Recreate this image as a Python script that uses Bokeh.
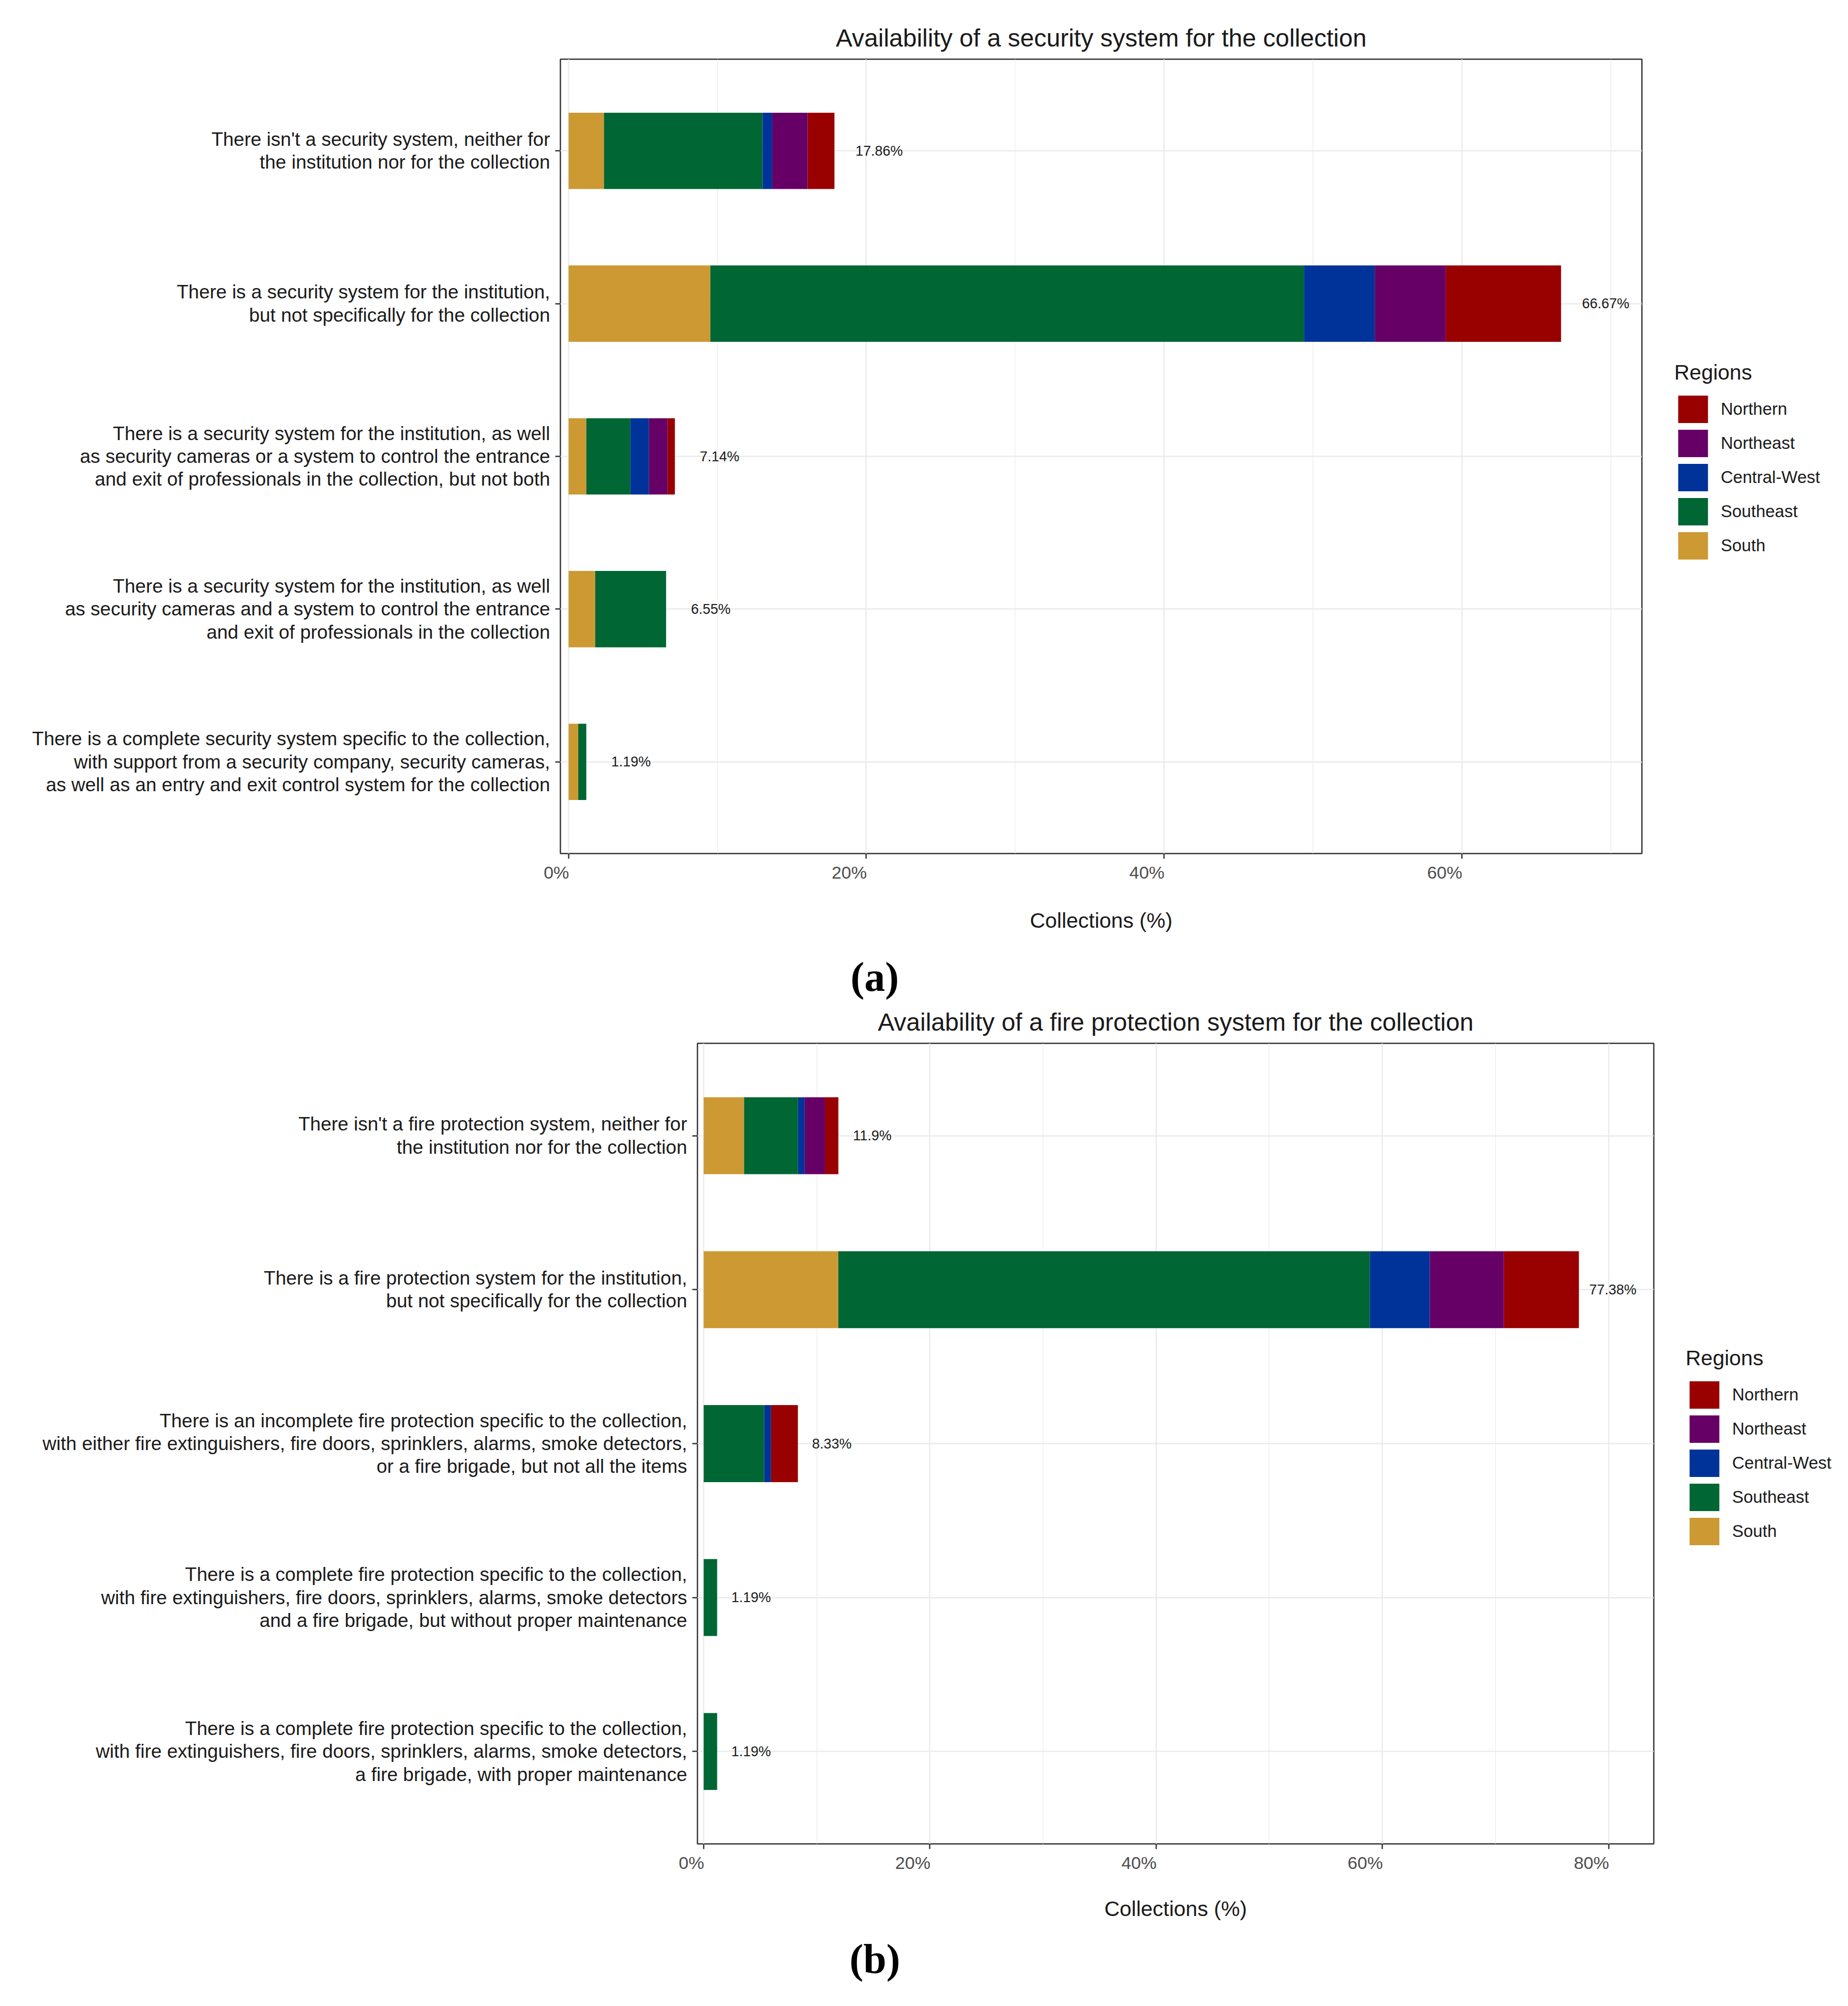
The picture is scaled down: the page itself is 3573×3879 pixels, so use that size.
import numpy as np
from bokeh.plotting import figure
from bokeh.models import (ColumnDataSource, FactorRange, Range1d, FixedTicker,
                          Legend, LegendItem, Title)
from bokeh.layouts import column, row
from bokeh.core.properties import value
from bokeh.embed import file_html
from bokeh.resources import INLINE

# ---------------- data ----------------
regions = ["South", "Southeast", "Central-West", "Northeast", "Northern"]
region_colors = ["#CC9933", "#006633", "#003399", "#660066", "#990000"]

sec_title = "Availability of a security system for the collection"
sec_categories = [
    "There isn't a security system, neither for\nthe institution nor for the collection",
    "There is a security system for the institution,\nbut not specifically for the collection",
    "There is a security system for the institution, as well\nas security cameras or a system to control the entrance\nand exit of professionals in the collection, but not both",
    "There is a security system for the institution, as well\nas security cameras and a system to control the entrance\nand exit of professionals in the collection",
    "There is a complete security system specific to the collection,\nwith support from a security company, security cameras,\nas well as an entry and exit control system for the collection",
]
sec_south = [2.38, 9.52, 1.19, 1.79, 0.65]
sec_southeast = [10.65, 39.88, 2.96, 4.76, 0.54]
sec_central_west = [0.65, 4.76, 1.25, 0.0, 0.0]
sec_northeast = [2.38, 4.76, 1.25, 0.0, 0.0]
sec_northern = [1.80, 7.75, 0.49, 0.0, 0.0]
sec_labels = ["17.86%", "66.67%", "7.14%", "6.55%", "1.19%"]
sec_ticks = [0, 20, 40, 60]
sec_minor = [10, 30, 50, 70]
sec_tick_labels = ["0%", "20%", "40%", "60%"]

fire_title = "Availability of a fire protection system for the collection"
fire_categories = [
    "There isn't a fire protection system, neither for\nthe institution nor for the collection",
    "There is a fire protection system for the institution,\nbut not specifically for the collection",
    "There is an incomplete fire protection specific to the collection,\nwith either fire extinguishers, fire doors, sprinklers, alarms, smoke detectors,\nor a fire brigade, but not all the items",
    "There is a complete fire protection specific to the collection,\nwith fire extinguishers, fire doors, sprinklers, alarms, smoke detectors\nand a fire brigade, but without proper maintenance",
    "There is a complete fire protection specific to the collection,\nwith fire extinguishers, fire doors, sprinklers, alarms, smoke detectors,\na fire brigade, with proper maintenance",
]
fire_south = [3.57, 11.90, 0.0, 0.0, 0.0]
fire_southeast = [4.76, 47.00, 5.36, 1.19, 1.19]
fire_central_west = [0.60, 5.30, 0.60, 0.0, 0.0]
fire_northeast = [1.79, 6.55, 0.0, 0.0, 0.0]
fire_northern = [1.19, 6.63, 2.37, 0.0, 0.0]
fire_labels = ["11.9%", "77.38%", "8.33%", "1.19%", "1.19%"]
fire_ticks = [0, 20, 40, 60, 80]
fire_minor = [10, 30, 50, 70]
fire_tick_labels = ["0%", "20%", "40%", "60%", "80%"]

LABEL_GAP = 3.0
FONT = "Liberation Sans"
NBSP = "\u00a0"
# advance widths (em) used to right-align x tick labels on their ticks
ADV = {"%": 0.889}


def right_pad(s):
    w = sum(ADV.get(c, 0.556) for c in s)
    return s + NBSP * int(round(w / 0.278))


def title_obj(text, standoff):
    return Title(text=text, align="center", text_font=FONT,
                 text_font_size="48px", text_font_style="normal",
                 text_color="#1A1A1A", standoff=standoff)


def tag_obj(text, offset, standoff):
    return Title(text=text, align="left", offset=offset,
                 text_font="Liberation Serif", text_font_size="80px",
                 text_font_style="bold", text_color="black",
                 standoff=standoff)


def make_chart(cats, series, labels, ticks, minor, tick_labels, xr,
               frame_left, frame_top, frame_w, frame_h, border_bottom,
               axis_standoff, legend_loc):
    data = {"cat": cats}
    for name, vals in zip(regions, series):
        data[name] = vals
    totals = np.sum(np.array(series, dtype=float), axis=0)
    data["lx"] = totals + LABEL_GAP
    data["lbl"] = labels
    src = ColumnDataSource(data)

    yr = FactorRange(factors=list(reversed(cats)), range_padding=0.1,
                     range_padding_units="absolute")
    p = figure(y_range=yr, x_range=Range1d(*xr), frame_width=frame_w,
               frame_height=frame_h, min_border_left=frame_left,
               min_border_top=frame_top, min_border_bottom=border_bottom,
               min_border_right=0, toolbar_location=None, title=None,
               output_backend="svg", background_fill_color="white",
               border_fill_color="white")

    rs = p.hbar_stack(regions, y="cat", height=0.5, color=region_colors,
                      source=src, line_color=None)
    p.text(x="lx", y="cat", text="lbl", source=src, text_font=value(FONT),
           text_font_size="27px", text_align="center", text_baseline="middle",
           text_color="#1A1A1A")

    # frame
    p.outline_line_color = "#333333"
    p.outline_line_width = 2.5

    # grids
    for g in (p.xgrid, p.ygrid):
        g.grid_line_color = "#EBEBEB"
        g.grid_line_width = 2.5
    p.xgrid.minor_grid_line_color = "#EBEBEB"
    p.xgrid.minor_grid_line_width = 1.2

    # x axis
    xa = p.xaxis[0]
    xa.ticker = FixedTicker(ticks=ticks, minor_ticks=minor)
    xa.major_label_overrides = {t: right_pad(s) for t, s in zip(ticks, tick_labels)}
    xa.major_label_text_font = FONT
    xa.major_label_text_font_size = "34px"
    xa.major_label_text_color = "#4D4D4D"
    xa.major_label_standoff = 7
    xa.axis_line_color = None
    xa.major_tick_line_color = "#333333"
    xa.major_tick_line_width = 2.5
    xa.major_tick_out = 10
    xa.major_tick_in = 0
    xa.minor_tick_line_color = None
    xa.axis_label = "Collections (%)"
    xa.axis_label_text_font = FONT
    xa.axis_label_text_font_size = "41px"
    xa.axis_label_text_font_style = "normal"
    xa.axis_label_text_color = "#1A1A1A"
    xa.axis_label_standoff = axis_standoff

    # y axis
    ya = p.yaxis[0]
    ya.major_label_text_font = FONT
    ya.major_label_text_font_size = "37px"
    ya.major_label_text_color = "#1A1A1A"
    ya.major_label_text_line_height = 1.08
    ya.major_label_standoff = 10
    ya.axis_line_color = None
    ya.major_tick_line_color = "#333333"
    ya.major_tick_line_width = 2.5
    ya.major_tick_out = 10
    ya.major_tick_in = 0

    # legend (side panel, positioned inside it)
    items = [LegendItem(label=name, renderers=[r])
             for name, r in reversed(list(zip(regions, rs)))]
    lg = Legend(items=items, title="Regions", location=legend_loc,
                title_text_font=FONT, title_text_font_size="41px",
                title_text_font_style="normal", title_text_color="#1A1A1A",
                title_standoff=14,
                label_text_font=FONT, label_text_font_size="33px",
                label_text_color="#1A1A1A", label_standoff=18,
                glyph_width=72, glyph_height=66, label_height=66,
                spacing=0, padding=0, margin=36,
                border_line_color=None, background_fill_alpha=0)
    p.add_layout(lg, "right")
    return p


# --- chart (a) ---
p1 = make_chart(sec_categories,
                [sec_south, sec_southeast, sec_central_west, sec_northeast, sec_northern],
                sec_labels, sec_ticks, sec_minor, sec_tick_labels, (-0.55, 72.1),
                frame_left=1083, frame_top=114, frame_w=2091, frame_h=1536,
                border_bottom=181, axis_standoff=48, legend_loc=(63, 562))
p1.add_layout(title_obj(sec_title, 30), "above")

# --- chart (b) ---
p2 = make_chart(fire_categories,
                [fire_south, fire_southeast, fire_central_west, fire_northeast, fire_northern],
                fire_labels, fire_ticks, fire_minor, fire_tick_labels, (-0.55, 84.0),
                frame_left=1348, frame_top=186, frame_w=1849, frame_h=1548,
                border_bottom=250, axis_standoff=44, legend_loc=(62, 571))
p2.add_layout(title_obj(fire_title, 30), "above")
p2.add_layout(tag_obj("(a)", 296, 0), "above")
p2.add_layout(tag_obj("(b)", 294, 50), "below")

layout = column(row(p1), row(p2))
open("out.html", "w").write(file_html(layout, INLINE))
